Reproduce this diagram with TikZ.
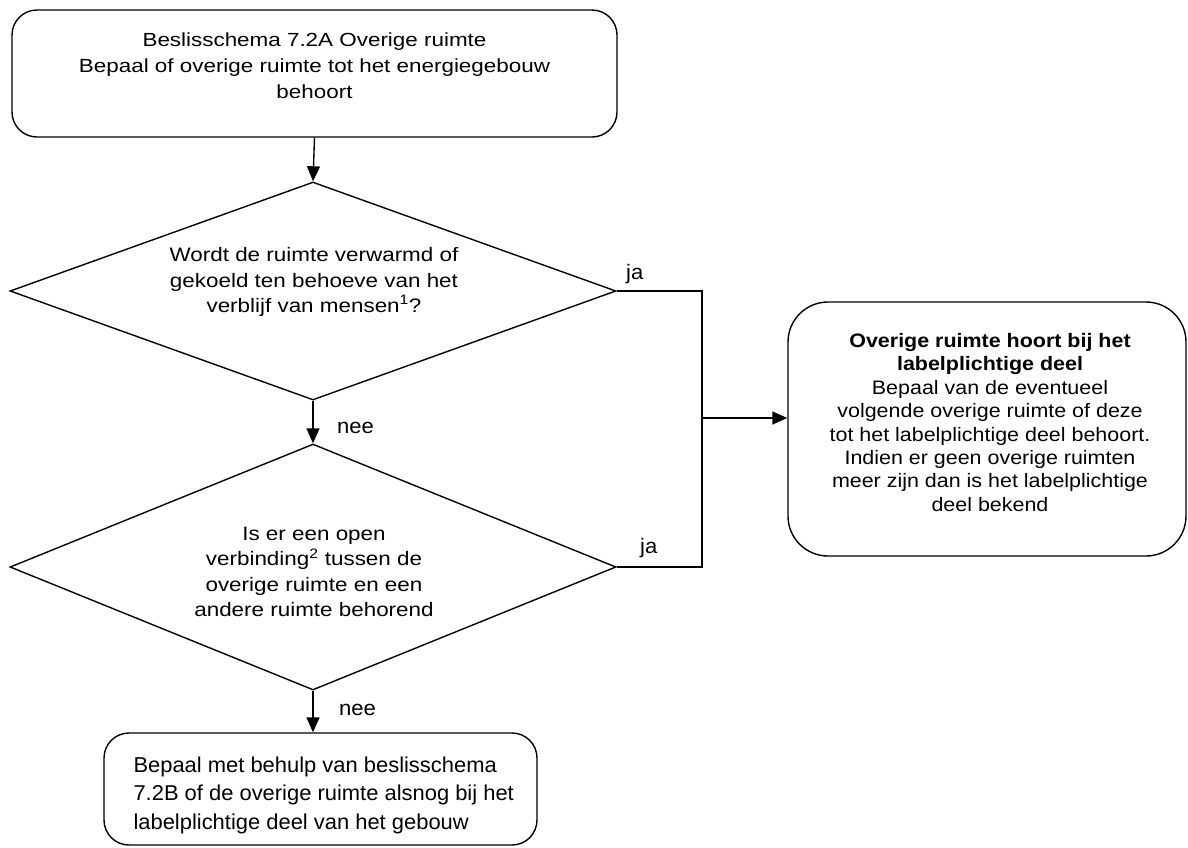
\documentclass[tikz,border=0pt]{standalone}
\usepackage{fontspec}
\setmainfont{Liberation Sans}
\newfontfamily\headfont[FakeStretch=1.18]{Liberation Sans}
\newfontfamily\askfont[FakeStretch=1.15]{Liberation Sans}
\newfontfamily\endfont[FakeStretch=1.1]{Liberation Sans}
\newfontfamily\stepfont[FakeStretch=1.02]{Liberation Sans}
\newfontfamily\answerfont[FakeStretch=1.05]{Liberation Sans}
\usetikzlibrary{arrows.meta,shapes.geometric}

\tikzset{
  line/.style={line width=1.4pt, line cap=butt, line join=miter},
  arr/.style={line, -{Triangle[length=15pt,width=13pt]}},
  roundbox/.style={line, draw, rectangle, inner sep=0pt},
  question/.style={line, draw, diamond, inner sep=0pt},
  headtxt/.style={align=center, font=\headfont\fontsize{19}{26}\selectfont},
  asktxt/.style={align=center, font=\askfont\fontsize{19.5}{25.3}\selectfont},
  endtxt/.style={align=center, font=\endfont\fontsize{19.5}{23.4}\selectfont},
  steptxt/.style={align=left, font=\stepfont\fontsize{21.5}{28.5}\selectfont},
  answer/.style={anchor=west, inner sep=0pt, font=\answerfont\fontsize{21}{24}\selectfont},
}

\begin{document}
\begin{tikzpicture}[x=1pt,y=-1pt]
  \useasboundingbox (0,0) rectangle (1188,847);

  % start box
  \node[roundbox, rounded corners=25pt, minimum width=605pt, minimum height=127pt] (start) at (314.5,73.5) {};
  \node[headtxt] (starttxt) at (314.5,66) {Beslisschema 7.2A Overige ruimte\\Bepaal of overige ruimte tot het energiegebouw\\behoort};

  % first question
  \node[question, minimum width=606pt, minimum height=218pt] (q1) at (313,291) {};
  \node[asktxt] (q1txt) at (314,282) {Wordt de ruimte verwarmd of\\gekoeld ten behoeve van het\\verblijf van mensen\textsuperscript{1}?};

  % second question
  \node[question, minimum width=606pt, minimum height=246pt] (q2) at (313,567) {};
  \node[asktxt] (q2txt) at (314,572) {Is er een open\\verbinding\textsuperscript{2} tussen de\\overige ruimte en een\\andere ruimte behorend};

  % outcome: belongs to the labelled part
  \node[roundbox, rounded corners=40pt, minimum width=398pt, minimum height=254pt] (yes) at (987,429) {};
  \node[endtxt] (yestxt) at (990,422.5) {\textbf{Overige ruimte hoort bij het}\\\textbf{labelplichtige deel}\\Bepaal van de eventueel\\volgende overige ruimte of deze\\tot het labelplichtige deel behoort.\\Indien er geen overige ruimten\\meer zijn dan is het labelplichtige\\deel bekend};

  % outcome: continue with scheme 7.2B
  \node[roundbox, rounded corners=25pt, minimum width=433pt, minimum height=112pt] (no) at (320.5,789) {};
  \node[steptxt, anchor=west] (notxt) at (130,795) {Bepaal met behulp van beslisschema\\7.2B of de overige ruimte alsnog bij het\\labelplichtige deel van het gebouw};

  % connectors
  \coordinate (join) at (702,418);
  \draw[arr] (start.south) -- (q1.north);
  \draw[arr] (q1.south) -- (q2.north);
  \draw[arr] (q2.south) -- (q2.south |- no.north);
  \draw[line] (q1.east) -| (join);
  \draw[line] (q2.east) -| (join);
  \draw[arr] (join) -- (join -| yes.west);

  % answer labels
  \node[answer] (ja1) at (626,274) {ja};
  \node[answer] (ja2) at (640,548) {ja};
  \node[answer] (nee1) at (337,428) {nee};
  \node[answer] (nee2) at (339,710) {nee};
\end{tikzpicture}
\end{document}
